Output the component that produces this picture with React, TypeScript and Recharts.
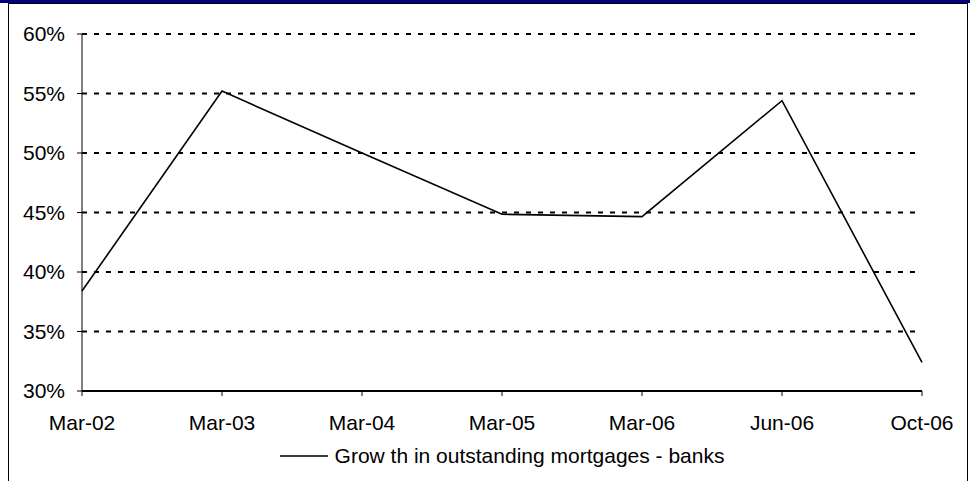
import React from 'react';
import { LineChart, Line, XAxis, YAxis, CartesianGrid, Legend } from 'recharts';

const categories = ['Mar-02', 'Mar-03', 'Mar-04', 'Mar-05', 'Mar-06', 'Jun-06', 'Oct-06'];
const growthValues = [38.4, 55.2, 50.0, 44.85, 44.65, 54.4, 32.4];
const yTicks = [30, 35, 40, 45, 50, 55, 60];
const seriesName = 'Grow th in outstanding mortgages - banks';

const data = categories.map((c, i) => ({ period: c, growth: growthValues[i] }));

const FONT = '"Liberation Sans", Arial, Helvetica, sans-serif';

const LegendContent = (props: any) => {
  const { payload } = props;
  return (
    <div style={{ display: 'flex', justifyContent: 'center', alignItems: 'center', fontFamily: FONT, fontSize: 21, color: '#000' }}>
      {(payload || []).map((p: any, i: number) => (
        <div key={i} style={{ display: 'flex', alignItems: 'center' }}>
          <svg width={48} height={4} style={{ display: 'block' }}>
            <line x1={0} y1={2} x2={48} y2={2} stroke="#000" strokeWidth={1.5} />
          </svg>
          <span style={{ marginLeft: 7, whiteSpace: 'pre' }}>{p.value}</span>
        </div>
      ))}
    </div>
  );
};

export default function App() {
  return (
    <div style={{ position: 'absolute', left: 0, top: 0, width: 970, height: 481, overflow: 'hidden', background: '#fff' }}>
      <div style={{ position: 'absolute', left: 0, top: 0, width: 970, height: 3, background: '#000080' }} />
      <div style={{ position: 'absolute', left: 8, top: 3, width: 960, height: 500, border: '1px solid #000', boxSizing: 'border-box' }} />
      <div style={{ position: 'absolute', left: 0, top: 0 }}>
        <LineChart width={970} height={481} data={data} margin={{ top: 34, right: 48, left: 0, bottom: 16 }}>
          <CartesianGrid horizontal={true} vertical={false} stroke="#000" strokeWidth={2} strokeDasharray="5 7" />
          <XAxis
            dataKey="period"
            height={50}
            tickSize={5}
            tickMargin={19}
            axisLine={{ stroke: '#000', strokeWidth: 2 }}
            tickLine={{ stroke: '#000', strokeWidth: 1 }}
            tick={{ fill: '#000', fontSize: 21, fontFamily: FONT }}
            interval={0}
          />
          <YAxis
            width={82}
            domain={[30, 60]}
            ticks={yTicks}
            tickFormatter={(v: number) => `${v}%`}
            tickSize={5}
            tickMargin={12}
            axisLine={{ stroke: '#000', strokeWidth: 1 }}
            tickLine={{ stroke: '#000', strokeWidth: 1 }}
            tick={{ fill: '#000', fontSize: 21, fontFamily: FONT }}
            interval={0}
          />
          <Legend
            verticalAlign="bottom"
            content={<LegendContent />}
            wrapperStyle={{ left: 0, width: 1004, top: 444 }}
          />
          <Line
            type="linear"
            dataKey="growth"
            name={seriesName}
            stroke="#000"
            strokeWidth={1.6}
            dot={false}
            activeDot={false}
            isAnimationActive={false}
          />
        </LineChart>
      </div>
    </div>
  );
}
